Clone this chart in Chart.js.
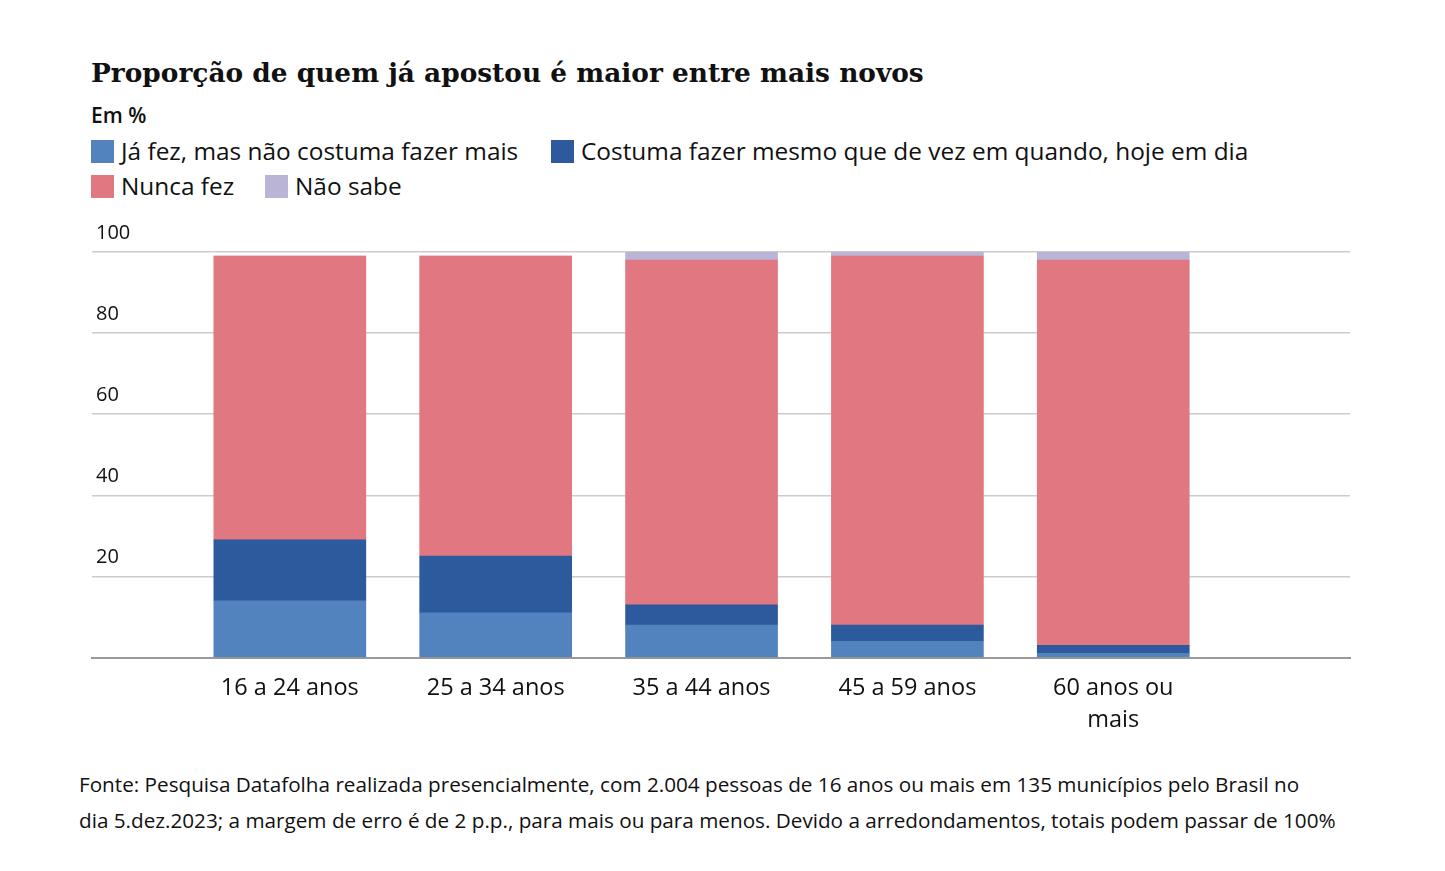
<!DOCTYPE html>
<html>
<head>
<meta charset="utf-8">
<script src="https://cdn.jsdelivr.net/npm/chart.js@4"></script>
<style>
  body { margin: 0; background: #fff; width: 1445px; height: 871px; position: relative; overflow: hidden; font-family: "Open Sans", sans-serif; color: #111; }
  #title { position: absolute; left: 91px; top: 57px; font-family: "DejaVu Serif", serif; font-weight: bold; font-size: 26.4px; white-space: nowrap; }
  #unit { position: absolute; left: 91px; top: 101px; font-weight: 600; font-size: 21px; }
  .leg { position: absolute; font-size: 24.4px; white-space: nowrap; line-height: 24px; }
  .leg span { display: inline-block; width: 23px; height: 23px; vertical-align: -3px; margin-right: 7px; }
  #source { position: absolute; left: 79px; top: 766px; font-size: 20.7px; line-height: 36px; white-space: nowrap; }
  #chart { position: absolute; left: 0; top: 200px; }
</style>
</head>
<body>
<div id="title">Proporção de quem já apostou é maior entre mais novos</div>
<div id="unit">Em %</div>
<div id="legend"></div>
<canvas id="chart" width="1445" height="560"></canvas>
<div id="source">Fonte: Pesquisa Datafolha realizada presencialmente, com 2.004 pessoas de 16 anos ou mais em 135 municípios pelo Brasil no<br>dia 5.dez.2023; a margem de erro é de 2 p.p., para mais ou para menos. Devido a arredondamentos, totais podem passar de 100%</div>
<script>
const categories = ['16 a 24 anos', '25 a 34 anos', '35 a 44 anos', '45 a 59 anos', ['60 anos ou', 'mais']];
const jaFez = [14, 11, 8, 4, 1];
const costuma = [15, 14, 5, 4, 2];
const nuncaFez = [70, 74, 85, 91, 95];
const naoSabe = [0, 0, 2, 1, 3];
const yTicks = [0, 20, 40, 60, 80, 100];

const series = [
    { label: 'Já fez, mas não costuma fazer mais', values: jaFez, color: '#5383be' },
    { label: 'Costuma fazer mesmo que de vez em quando, hoje em dia', values: costuma, color: '#2c5a9c' },
    { label: 'Nunca fez', values: nuncaFez, color: '#e07781' },
    { label: 'Não sabe', values: naoSabe, color: '#bab5d6' }
];

// legend, two rows like the original
const legendPos = [[91, 139], [551, 139], [91, 174], [265, 174]];
const legend = document.getElementById('legend');
for (let i = 0; i < series.length; i++)
{
    const d = document.createElement('div');
    d.className = 'leg';
    d.style.left = legendPos[i][0] + 'px';
    d.style.top = legendPos[i][1] + 'px';
    const sw = document.createElement('span');
    sw.style.background = series[i].color;
    d.appendChild(sw);
    d.appendChild(document.createTextNode(series[i].label));
    legend.appendChild(d);
}

const ctx = document.getElementById('chart').getContext('2d');
new Chart(ctx, {
    type: 'bar',
    data: {
        datasets: series.map(s => ({
            label: s.label,
            data: s.values.map((v, i) => ({ x: i, y: v })),
            backgroundColor: s.color,
            borderWidth: 0,
            barThickness: 152
        }))
    },
    options: {
        responsive: false,
        animation: false,
        layout: { padding: { left: 84, right: 95, top: 52, bottom: 9 } },
        plugins: { legend: { display: false }, tooltip: { enabled: false } },
        scales: {
            x: {
                type: 'linear',
                offset: false,
                stacked: true,
                min: -0.961,
                max: 5.15,
                grid: { display: false, drawTicks: false },
                border: { color: '#999', width: 2 },
                ticks: {
                    stepSize: 1,
                    includeBounds: false,
                    autoSkip: false,
                    maxRotation: 0,
                    padding: 15,
                    color: '#111',
                    font: { family: 'Open Sans', size: 23.5, lineHeight: 1.35 },
                    callback: v => (Number.isInteger(v) && v >= 0 && v < categories.length) ? categories[v] : ''
                }
            },
            y: {
                stacked: true,
                min: 0,
                max: 100,
                afterBuildTicks: axis => { axis.ticks = yTicks.map(v => ({ value: v })); },
                grid: { color: '#cccccc', lineWidth: 1.5, drawTicks: false },
                border: { display: false },
                ticks: {
                    mirror: true,
                    padding: 4,
                    labelOffset: -19,
                    color: '#111',
                    font: { family: 'Open Sans', size: 20 },
                    callback: v => v === 0 ? '' : v
                }
            }
        }
    }
});
</script>
</body>
</html>
